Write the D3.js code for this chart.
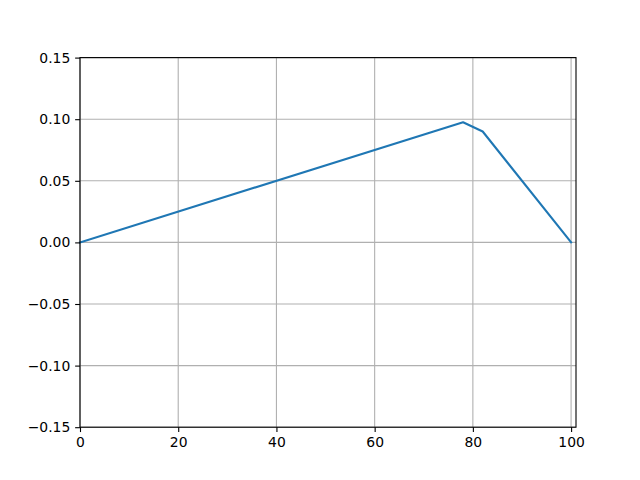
<!DOCTYPE html>
<html>
<head>
<meta charset="utf-8">
<script src="https://cdn.jsdelivr.net/npm/d3@7"></script>
<style>
  body { margin: 0; background: #fff; }
  svg { display: block; }
  text { font-family: "DejaVu Sans", sans-serif; }
</style>
</head>
<body>
<div id="chart"></div>
<script>
// data
const xs = [0, 78, 82, 100];
const ys = [0, 0.0975, 0.09, 0];
const xTicks = [0, 20, 40, 60, 80, 100];
const yTicks = [-0.15, -0.10, -0.05, 0.00, 0.05, 0.10, 0.15];

const width = 640, height = 480;
const margin = { left: 80, right: 64, top: 57.6, bottom: 52.8 };

const svg = d3.select('#chart').append('svg')
  .attr('width', width)
  .attr('height', height);

const x = d3.scaleLinear().domain([0, 101]).range([margin.left, width - margin.right]);
const y = d3.scaleLinear().domain([-0.15, 0.15]).range([height - margin.bottom, margin.top]);

// grid
const grid = svg.append('g').attr('stroke', '#b0b0b0').attr('stroke-width', 1.1);
grid.selectAll('line.gx').data(xTicks).join('line')
  .attr('class', 'gx')
  .attr('x1', d => x(d)).attr('x2', d => x(d))
  .attr('y1', y(-0.15)).attr('y2', y(0.15));
grid.selectAll('line.gy').data(yTicks).join('line')
  .attr('class', 'gy')
  .attr('y1', d => y(d)).attr('y2', d => y(d))
  .attr('x1', x(0)).attr('x2', x(101));

// the line
const pts = xs.map((v, i) => [v, ys[i]]);
svg.append('path')
  .datum(pts)
  .attr('fill', 'none')
  .attr('stroke', '#1f77b4')
  .attr('stroke-width', 2.08)
  .attr('stroke-linejoin', 'round')
  .attr('stroke-linecap', 'square')
  .attr('d', d3.line().x(d => x(d[0])).y(d => y(d[1])));

// axes
const fmtY = d => d3.format('.2f')(d).replace('-', '\u2212');
const xAxis = d3.axisBottom(x).tickValues(xTicks).tickSize(4.86).tickPadding(4.86).tickFormat(d3.format('d'));
const yAxis = d3.axisLeft(y).tickValues(yTicks).tickSize(4.86).tickPadding(4.86).tickFormat(fmtY);

const gx = svg.append('g').attr('transform', `translate(0,${height - margin.bottom})`).call(xAxis);
const gy = svg.append('g').attr('transform', `translate(${margin.left},0)`).call(yAxis);
[gx, gy].forEach(g => {
  g.select('.domain').remove();
  g.selectAll('line').attr('stroke', '#000').attr('stroke-width', 1.1);
  g.selectAll('text').attr('fill', '#000').style('font-size', '13.9px').style('font-family', '"DejaVu Sans", sans-serif');
});

// frame
svg.append('rect')
  .attr('x', margin.left).attr('y', margin.top)
  .attr('width', width - margin.left - margin.right)
  .attr('height', height - margin.top - margin.bottom)
  .attr('fill', 'none').attr('stroke', '#000').attr('stroke-width', 1.1);
</script>
</body>
</html>
